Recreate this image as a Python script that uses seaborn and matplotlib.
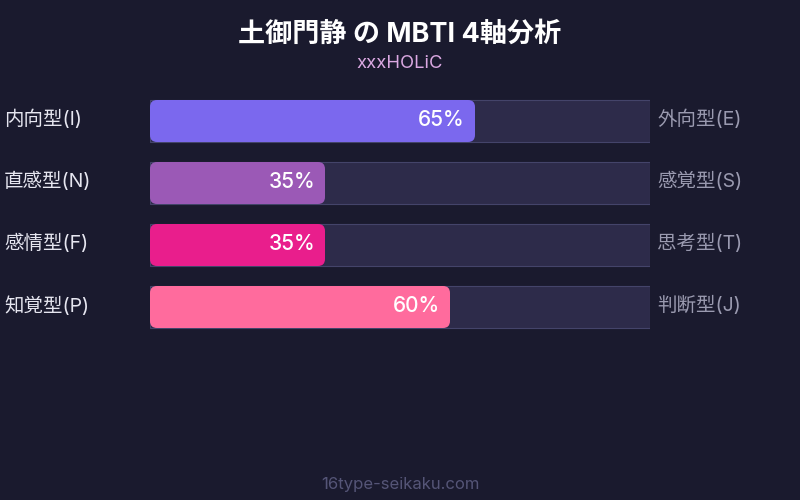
import pandas as pd
import matplotlib
matplotlib.use("Agg")
import matplotlib.pyplot as plt
from matplotlib.patches import FancyBboxPatch
import seaborn as sns

# data
left_labels = ["内向型(I)", "直感型(N)", "感情型(F)", "知覚型(P)"]
right_labels = ["外向型(E)", "感覚型(S)", "思考型(T)", "判断型(J)"]
values = [65, 35, 35, 60]
bar_colors = ["#7b68ee", "#9b59b6", "#e91e8c", "#ff6b9d"]

BG = "#1a1a2e"
TRACK = "#2d2b4a"
FONT = ["Inter", "Noto Sans CJK JP", "DejaVu Sans"]

sns.set_theme(style="dark")
plt.rcParams["font.family"] = FONT

df = pd.DataFrame({"axis": left_labels, "value": values, "full": [100] * len(values)})

fig = plt.figure(figsize=(8, 5), dpi=100, facecolor=BG)
ax = fig.add_axes([150 / 800, 1 - 338 / 500, 500 / 800, 248 / 500])
ax.set_facecolor(BG)

bar_h = 42 / 62

# background tracks
sns.barplot(data=df, x="full", y="axis", color=TRACK, width=bar_h,
            edgecolor="#44446a", linewidth=0.8, saturation=1, ax=ax)
n_track = len(ax.patches)

# value bars, later swapped for rounded boxes
sns.barplot(data=df, x="value", y="axis", hue="axis", palette=bar_colors,
            width=bar_h, legend=False, saturation=1, ax=ax)

ax.set_xlim(0, 100)
ax.set_ylim(3.5, -0.5)

radius_x = 1.4
radius_y = 7 / 62
for p in ax.patches[n_track:]:
    x0, y0 = p.get_x(), p.get_y()
    w, h = p.get_width(), p.get_height()
    box = FancyBboxPatch((x0, y0), w, h,
                         boxstyle=f"round,pad=0,rounding_size={radius_x}",
                         mutation_aspect=radius_y / radius_x,
                         facecolor=p.get_facecolor(), edgecolor="none", zorder=3)
    ax.add_patch(box)
    p.set_visible(False)

for i, v in enumerate(values):
    ax.text(v - 2, i - 0.02, f"{v}%", ha="right", va="center", color="white",
            fontsize=15, fontweight="medium", zorder=4)
    ax.text(-29.2, i - 0.02, left_labels[i], ha="left", va="center", color="#e6e6f0",
            fontsize=14, zorder=4)
    ax.text(101.4, i - 0.02, right_labels[i], ha="left", va="center", color="#9a9ab0",
            fontsize=14, zorder=4)

ax.set_xlabel("")
ax.set_ylabel("")
ax.set_xticks([])
ax.set_yticks([])
for s in ax.spines.values():
    s.set_visible(False)

fig.text(0.5, 1 - 35 / 500, "土御門静 の MBTI 4軸分析", ha="center", va="center",
         color="white", fontsize=19.5, fontweight="bold")
fig.text(0.5, 1 - 64 / 500, "xxxHOLiC", ha="center", va="center",
         color="#dba8e2", fontsize=13.3)
fig.text(0.5, 1 - 484 / 500, "16type-seikaku.com", ha="center", va="center",
         color="#555577", fontsize=12)

fig.savefig("out.png", dpi=100, facecolor=BG)
